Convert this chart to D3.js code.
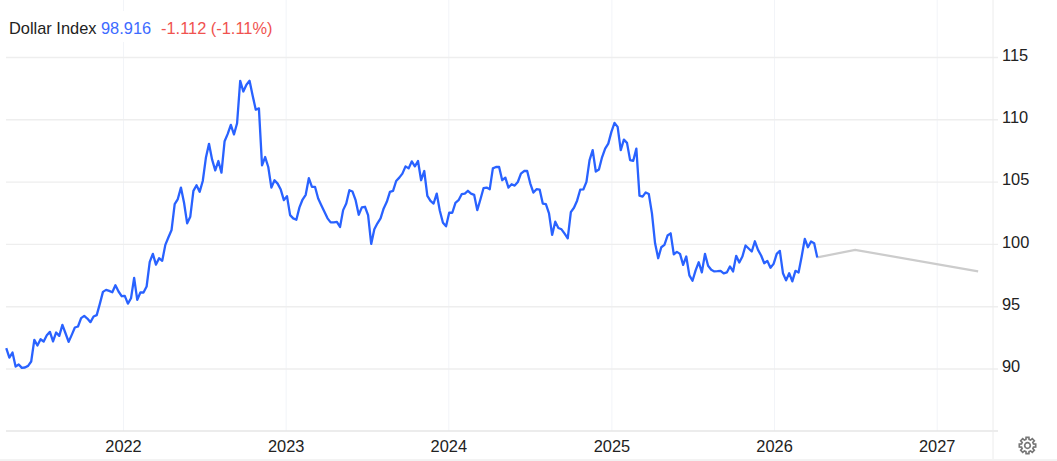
<!DOCTYPE html>
<html>
<head>
<meta charset="utf-8">
<script src="https://cdn.jsdelivr.net/npm/d3@7/dist/d3.min.js"></script>
<style>
html,body{margin:0;padding:0;background:#fff;overflow:hidden}
svg{display:block}
text{font-family:"Liberation Sans",Arial,sans-serif}
</style>
</head>
<body>
<svg id="chart" width="1057" height="461"></svg>
<script>
const seriesName = "Dollar Index";
const lastValue = "98.916";
const changeText = "-1.112 (-1.11%)";
const firstWeek = "2021-04-14";
const yTicks = [90, 95, 100, 105, 110, 115];
const xTickYears = [2022, 2023, 2024, 2025, 2026, 2027];

// weekly closes
const weeklyValues = [
91.63,90.88,91.28,90.16,90.32,90.05,90.08,90.21,90.56,92.30,
91.84,92.35,92.17,92.67,92.94,92.17,92.89,92.62,93.50,92.83,
92.14,92.70,93.29,93.37,94.04,94.22,94.01,93.72,94.17,94.28,
95.19,96.15,96.31,96.23,96.12,96.68,96.18,95.80,95.83,95.21,
95.64,97.27,95.51,96.10,96.10,96.58,98.56,99.20,98.34,98.85,
98.64,99.92,100.53,101.12,103.20,103.60,104.52,103.30,101.65,102.18,
104.26,104.71,104.18,105.05,106.91,108.03,106.76,105.90,106.65,105.72,
108.24,108.83,109.55,108.78,109.68,113.09,112.23,112.77,113.09,111.89,
110.77,110.88,106.30,106.97,106.17,104.52,105.11,104.84,104.36,103.51,
103.83,102.31,102.05,101.94,102.93,103.56,103.94,105.27,104.57,104.57,
103.64,103.11,102.58,102.05,101.73,101.73,101.76,101.36,102.71,103.24,
104.31,104.20,103.51,102.34,102.93,102.98,102.31,100.00,101.17,101.65,
102.05,102.85,103.38,104.18,104.26,105.05,105.32,105.64,106.22,106.06,
106.62,106.22,106.65,105.11,105.85,103.86,103.46,103.24,104.04,102.66,
101.70,101.41,102.50,102.50,103.30,103.51,103.99,104.04,104.26,104.04,
103.94,102.71,103.56,104.47,104.52,104.39,106.06,106.17,106.17,105.11,
105.32,104.52,104.79,104.68,104.97,105.64,105.85,105.85,104.84,104.12,
104.39,104.36,103.24,103.19,102.45,100.72,101.78,101.28,101.17,100.82,
100.45,102.55,102.90,103.47,104.35,104.37,104.98,106.72,107.52,105.81,
105.97,106.95,107.65,108.05,108.99,109.71,109.39,107.52,108.37,108.11,
106.72,106.67,107.65,103.87,103.79,104.13,104.00,102.45,100.05,98.85,
99.73,99.92,100.67,100.85,99.17,99.36,99.20,98.32,98.99,97.47,
97.04,97.87,98.53,97.71,99.20,98.24,97.92,97.79,97.81,97.84,
97.63,97.71,98.19,97.79,99.04,98.51,98.99,99.87,99.63,99.39,
100.21,99.52,99.07,98.45,98.64,98.08,98.40,99.20,99.44,97.65,
97.07,97.65,96.99,97.84,97.71,98.99,100.40,99.73,100.19,100.05,
98.916];

const forecastDates = ["2026-04-08", "2026-07-02", "2027-04-04"];
const forecastValues = [98.916, 99.52, 97.80];

const svg = d3.select("#chart");
const plot = {left: 6, right: 993, bottom: 431};
const parse = d3.utcParse("%Y-%m-%d");
const labelSize = 16.4;

const x = d3.scaleUtc()
  .domain([new Date(Date.UTC(2022,0,1)), new Date(Date.UTC(2027,0,1))])
  .range([123, 936.7]);
const y = d3.scaleLinear().domain([90, 115]).range([368.5, 57]);

const start = parse(firstWeek);
const weekly = weeklyValues.map((v, i) => ({d: d3.utcDay.offset(start, 7 * i), v}));
const forecast = forecastDates.map((d, i) => ({d: parse(d), v: forecastValues[i]}));

// vertical grid + x labels
const xAxis = d3.axisBottom(x)
  .tickValues(xTickYears.map(yr => new Date(Date.UTC(yr, 0, 1))))
  .tickFormat(d3.utcFormat("%Y"))
  .tickSize(-plot.bottom).tickPadding(9);
const gx = svg.append("g").attr("transform", `translate(0,${plot.bottom})`).call(xAxis);
gx.select(".domain").remove();
gx.selectAll(".tick line").attr("stroke", "#f2f4f8").attr("stroke-width", 1);
gx.selectAll(".tick text").attr("fill", "#222").attr("font-size", labelSize)
  .style("font-family", '"Liberation Sans",Arial,sans-serif');

// horizontal grid + y labels
const yAxis = d3.axisRight(y).tickValues(yTicks).tickSize(plot.right + 5 - plot.left).tickPadding(4);
const gy = svg.append("g").attr("transform", `translate(${plot.left},0)`).call(yAxis);
gy.select(".domain").remove();
gy.selectAll(".tick line").attr("stroke", "#eeeeee").attr("stroke-width", 1.4);
gy.selectAll(".tick text").attr("fill", "#222").attr("font-size", labelSize).attr("dy", "0.2em")
  .style("font-family", '"Liberation Sans",Arial,sans-serif');

// frame lines
svg.append("line").attr("x1", plot.left).attr("x2", plot.right + 5).attr("y1", plot.bottom).attr("y2", plot.bottom)
  .attr("stroke", "#e6e6e6").attr("stroke-width", 1.5);
svg.append("line").attr("x1", plot.right).attr("x2", plot.right).attr("y1", 0).attr("y2", 459)
  .attr("stroke", "#ececec");
svg.append("line").attr("x1", 0).attr("x2", 1057).attr("y1", 460).attr("y2", 460)
  .attr("stroke", "#e6e6e6");

const line = d3.line().x(p => x(p.d)).y(p => y(p.v));
svg.append("path").datum(forecast).attr("d", line).attr("fill", "none")
  .attr("stroke", "#cccccc").attr("stroke-width", 2.2);
svg.append("path").datum(weekly).attr("d", line).attr("fill", "none")
  .attr("stroke", "#2962ff").attr("stroke-width", 2.3).attr("stroke-linejoin", "round");

// title block
svg.append("rect").attr("x", 6).attr("y", 11).attr("width", 270).attr("height", 31).attr("fill", "#fff");
const title = svg.append("text").attr("y", 34).attr("font-size", labelSize);
title.append("tspan").attr("fill", "#222").attr("x", 9).text(seriesName);
title.append("tspan").attr("fill", "#3d6bff").attr("x", 101).text(lastValue);
title.append("tspan").attr("fill", "#f0524f").attr("x", 161).text(changeText);

// settings gear
const gear = svg.append("g").attr("transform", "translate(1027.5,445.5)")
  .attr("fill", "none").attr("stroke", "#777").attr("stroke-width", 1.7);
const teeth = 8, pts = [];
for (let k = 0; k < teeth; k++) {
  const a = k * 2 * Math.PI / teeth + Math.PI / 2;
  [[-0.26, 6.2], [-0.17, 8.3], [0.17, 8.3], [0.26, 6.2]].forEach(([da, r]) =>
    pts.push([r * Math.cos(a + da), r * Math.sin(a + da)]));
}
gear.append("path").attr("d", d3.line().curve(d3.curveLinearClosed)(pts));
gear.append("circle").attr("r", 2.8);
</script>
</body>
</html>
